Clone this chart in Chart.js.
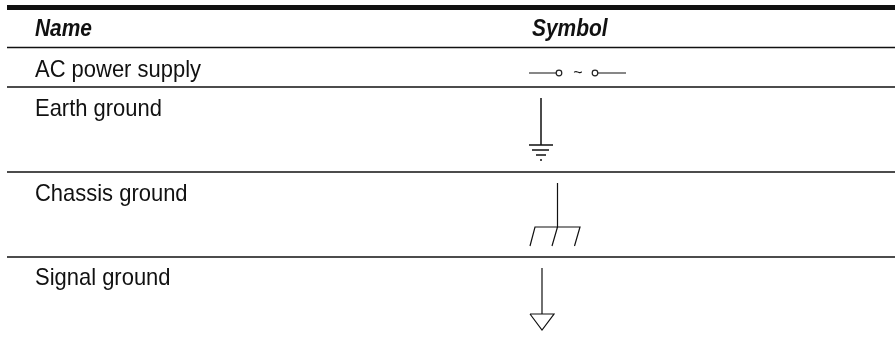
<!DOCTYPE html>
<html>
<head>
  <script src="https://cdn.jsdelivr.net/npm/chart.js"></script>
  <style>
    html, body { margin: 0; padding: 0; background: #fff; }
    canvas { display: block; }
  </style>
</head>
<body>
  <canvas id="symbolChart" width="895" height="339"></canvas>

  <script>
    // Table text
    var headers = ['Name', 'Symbol'];
    var names = ['AC power supply', 'Earth ground', 'Chassis ground', 'Signal ground'];
    var tilde = '~';

    // Text anchors, in axis units
    var headerX = [35, 532];
    var headerY = 36;
    var nameX = 35;
    var nameY = [77, 116, 201, 285];
    var tildeX = 578;
    var tildeY = 78;

    // Horizontal rules
    var ruleFromX = 7;
    var ruleToX = 895;
    var ruleY = [7.5, 47.5, 87, 172, 257];
    var ruleWidth = [5, 1.5, 1.5, 1.5, 1.5];

    // Symbol strokes, null breaks the line
    var acX = [529, 556, null, 598, 626];
    var acY = [73, 73, null, 73, 73];
    var acTermX = [559, 595];
    var acTermY = [73, 73];

    var earthX = [541, 541, null, 529, 553, null, 532, 549, null, 536, 546, null, 540, 542];
    var earthY = [98, 145, null, 145, 145, null, 150, 150, null, 155, 155, null, 160, 160];

    var chassisX = [557.5, 557.5, null, 530, 535, 580, 574.5, null, 557.5, 552];
    var chassisY = [183, 227, null, 246, 227, 227, 246, null, 227, 246];

    var signalX = [542, 542, null, 530, 554, 542, 530];
    var signalY = [268, 314, null, 314, 314, 330, 314];

    function zip(xs, ys) {
      return xs.map(function(x, i) {
        return { x: x, y: ys[i] };
      });
    }

    function strokeSet(xs, ys, width) {
      return {
        data: zip(xs, ys),
        showLine: true,
        borderColor: '#111',
        borderWidth: width,
        pointRadius: 0,
        spanGaps: false
      };
    }

    var datasets = [];
    ruleY.forEach(function(y, i) {
      datasets.push(strokeSet([ruleFromX, ruleToX], [y, y], ruleWidth[i]));
    });
    datasets.push(strokeSet(acX, acY, 1.2));
    datasets.push(strokeSet(earthX, earthY, 1.5));
    datasets.push(strokeSet(chassisX, chassisY, 1.2));
    datasets.push(strokeSet(signalX, signalY, 1.2));
    datasets.push({
      data: zip(acTermX, acTermY),
      showLine: false,
      pointRadius: 2.8,
      pointBackgroundColor: '#fff',
      pointBorderColor: '#222',
      pointBorderWidth: 1.2
    });

    // Condensed text: no narrow face is installed, so squeeze it sideways
    function squeezedText(ctx, text, x, y, squeeze) {
      ctx.save();
      ctx.translate(x, y);
      ctx.scale(squeeze, 1);
      ctx.fillText(text, 0, 0);
      ctx.restore();
    }

    // Table text goes on top of the strokes
    var tableText = {
      id: 'tableText',
      afterDatasetsDraw: function(chart) {
        var ctx = chart.ctx;
        var sx = chart.scales.x;
        var sy = chart.scales.y;
        ctx.save();
        ctx.fillStyle = '#111';
        ctx.textBaseline = 'alphabetic';
        ctx.font = 'italic bold 23px "Liberation Sans"';
        headers.forEach(function(h, i) {
          squeezedText(ctx, h, sx.getPixelForValue(headerX[i]), sy.getPixelForValue(headerY), 0.91);
        });
        ctx.font = '24px "Liberation Sans"';
        names.forEach(function(n, i) {
          squeezedText(ctx, n, sx.getPixelForValue(nameX), sy.getPixelForValue(nameY[i]), 0.915);
        });
        ctx.font = '16px "Liberation Sans"';
        ctx.textAlign = 'center';
        ctx.fillText(tilde, sx.getPixelForValue(tildeX), sy.getPixelForValue(tildeY));
        ctx.restore();
      }
    };

    var ctx = document.getElementById('symbolChart').getContext('2d');
    new Chart(ctx, {
      type: 'scatter',
      data: { datasets: datasets },
      plugins: [tableText],
      options: {
        responsive: false,
        animation: false,
        layout: { padding: 0, autoPadding: false },
        plugins: {
          legend: { display: false },
          tooltip: { enabled: false }
        },
        scales: {
          x: { type: 'linear', display: false, min: 0, max: 895 },
          y: { type: 'linear', display: false, min: 0, max: 339, reverse: true }
        }
      }
    });
  </script>
</body>
</html>
